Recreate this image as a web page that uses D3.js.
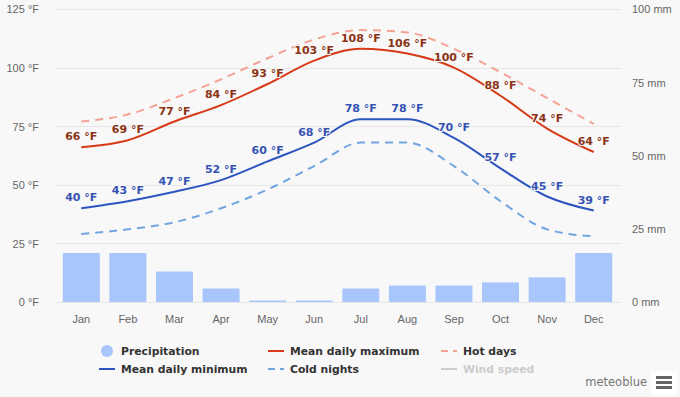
<!DOCTYPE html>
<html>
<head>
<meta charset="utf-8">
<script src="https://cdn.jsdelivr.net/npm/d3@7"></script>
<style>
  body { margin: 0; background: #f8f8f8; }
  svg { display: block; font-family: "DejaVu Sans", Verdana, sans-serif; }
</style>
</head>
<body>
<svg id="chart" width="680" height="397"></svg>
<script>
const months = ["Jan", "Feb", "Mar", "Apr", "May", "Jun", "Jul", "Aug", "Sep", "Oct", "Nov", "Dec"];
const precipitation = [16.7, 16.7, 10.4, 4.6, 0.5, 0.5, 4.6, 5.6, 5.6, 6.7, 8.4, 16.7];
const meanMax = [66, 69, 77, 84, 93, 103, 108, 106, 100, 88, 74, 64];
const meanMin = [40, 43, 47, 52, 60, 68, 78, 78, 70, 57, 45, 39];
const hotDays = [77, 80, 87, 95, 104, 112, 116, 115, 108, 98, 87, 76];
const coldNights = [29, 31, 34, 40, 48, 58, 68, 68, 58, 43, 31, 28];
const tempTicks = [0, 25, 50, 75, 100, 125];
const mmTicks = [0, 25, 50, 75, 100];

const width = 680, height = 397;
const margin = {top: 9, right: 63, bottom: 95, left: 58};
const svg = d3.select("#chart");

const x = d3.scaleBand().domain(months).range([margin.left, width - margin.right]).paddingInner(0.2).paddingOuter(0.1);
const xc = d => x(d) + x.bandwidth() / 2;
const yT = d3.scaleLinear().domain([0, 125]).range([height - margin.bottom, margin.top]);
const yP = d3.scaleLinear().domain([0, 100]).range([height - margin.bottom, margin.top]);

// gridlines
svg.append("g")
  .selectAll("line")
  .data(tempTicks)
  .join("line")
  .attr("x1", margin.left - 2)
  .attr("x2", width - margin.right + 4)
  .attr("y1", d => Math.round(yT(d)) + 0.5)
  .attr("y2", d => Math.round(yT(d)) + 0.5)
  .attr("stroke", "#e6e6e6");

// left axis
const leftAxis = svg.append("g")
  .attr("transform", `translate(${margin.left - 16},0)`)
  .call(d3.axisLeft(yT).tickValues(tempTicks).tickSize(0).tickFormat(d => d + " °F"));
leftAxis.select(".domain").remove();
leftAxis.selectAll("text").attr("fill", "#666").attr("font-size", 11).attr("font-family", null).attr("dy", "0.35em");

// right axis
const rightAxis = svg.append("g")
  .attr("transform", `translate(${width - margin.right + 12},0)`)
  .call(d3.axisRight(yP).tickValues(mmTicks).tickSize(0).tickFormat(d => d + " mm"));
rightAxis.select(".domain").remove();
rightAxis.selectAll("text").attr("fill", "#666").attr("font-size", 11).attr("font-family", null).attr("dy", "0.35em");

// bottom axis
const bottomAxis = svg.append("g")
  .attr("transform", `translate(0,${height - margin.bottom + 10})`)
  .call(d3.axisBottom(x).tickSize(0));
bottomAxis.select(".domain").remove();
bottomAxis.selectAll("text").attr("fill", "#666").attr("font-size", 11).attr("font-family", null);

// precipitation bars
const bw = 37;
svg.append("g")
  .selectAll("rect")
  .data(precipitation)
  .join("rect")
  .attr("x", (d, i) => xc(months[i]) - bw / 2)
  .attr("width", bw)
  .attr("y", d => yP(d))
  .attr("height", d => yP(0) - yP(d))
  .attr("fill", "#a8c6fb");

const line = vals => d3.line()
  .x((d, i) => xc(months[i]))
  .y(d => yT(d))
  .curve(d3.curveMonotoneX)(vals);

svg.append("path").attr("d", line(hotDays)).attr("fill", "none")
  .attr("stroke", "#f3a293").attr("stroke-width", 2).attr("stroke-dasharray", "8,6");
svg.append("path").attr("d", line(coldNights)).attr("fill", "none")
  .attr("stroke", "#70a5e0").attr("stroke-width", 2).attr("stroke-dasharray", "8,6");
svg.append("path").attr("d", line(meanMax)).attr("fill", "none")
  .attr("stroke", "#d63a17").attr("stroke-width", 2);
svg.append("path").attr("d", line(meanMin)).attr("fill", "none")
  .attr("stroke", "#2c55c0").attr("stroke-width", 2);

// data labels
function labels(vals, color) {
  svg.append("g")
    .selectAll("text")
    .data(vals)
    .join("text")
    .attr("x", (d, i) => xc(months[i]))
    .attr("y", d => yT(d) - 7)
    .attr("text-anchor", "middle")
    .attr("font-size", 11)
    .attr("font-weight", "bold")
    .attr("fill", color)
    .attr("stroke", "#f8f8f8")
    .attr("stroke-width", 2)
    .attr("paint-order", "stroke")
    .text(d => d + " °F");
}
labels(meanMax, "#8b3214");
labels(meanMin, "#3553b3");

// legend
const legendItems = [
  {name: "Precipitation", x: 107, y: 351, type: "circle", color: "#a8c6fb", text: "#333"},
  {name: "Mean daily maximum", x: 276, y: 351, type: "line", color: "#d63a17", text: "#333"},
  {name: "Hot days", x: 449, y: 351, type: "dash", color: "#f3a293", text: "#333"},
  {name: "Mean daily minimum", x: 107, y: 369, type: "line", color: "#2c55c0", text: "#333"},
  {name: "Cold nights", x: 276, y: 369, type: "dash", color: "#70a5e0", text: "#333"},
  {name: "Wind speed", x: 449, y: 369, type: "line", color: "#cccccc", text: "#cccccc"}
];
const lg = svg.append("g").selectAll("g").data(legendItems).join("g")
  .attr("transform", d => `translate(${d.x},${d.y})`);
lg.filter(d => d.type === "circle").append("circle").attr("r", 6).attr("fill", d => d.color);
lg.filter(d => d.type === "line").append("line")
  .attr("x1", -8).attr("x2", 8).attr("stroke", d => d.color).attr("stroke-width", 2);
lg.filter(d => d.type === "dash").append("line")
  .attr("x1", -8).attr("x2", 8).attr("stroke", d => d.color).attr("stroke-width", 2).attr("stroke-dasharray", "7,5");
lg.append("text")
  .attr("x", 14).attr("dy", "0.35em")
  .attr("font-size", 10.8).attr("font-weight", "bold")
  .attr("fill", d => d.text)
  .text(d => d.name);

// credit and menu
svg.append("text").attr("x", 647).attr("y", 386).attr("text-anchor", "end")
  .attr("font-size", 11.5).attr("fill", "#777").text("meteoblue");
svg.append("rect").attr("x", 651).attr("y", 371).attr("width", 26).attr("height", 24).attr("fill", "#fff");
svg.append("g").selectAll("rect").data([0, 1, 2]).join("rect")
  .attr("x", 656).attr("y", d => 376 + d * 5).attr("width", 16).attr("height", 3).attr("fill", "#666");
</script>
</body>
</html>
